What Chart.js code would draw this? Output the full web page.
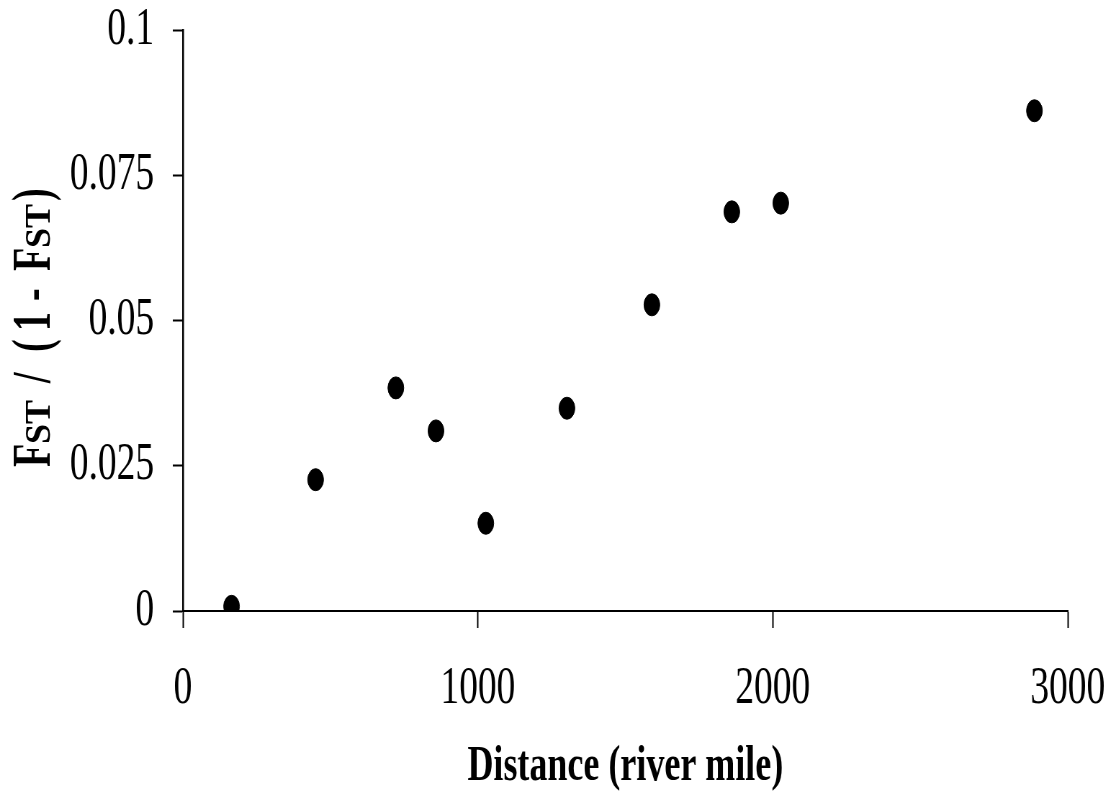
<!DOCTYPE html>
<html>
<head>
<meta charset="utf-8">
<script src="https://cdn.jsdelivr.net/npm/chart.js@4.4.1/dist/chart.umd.min.js"></script>
<style>
  html, body { margin: 0; padding: 0; background: #fff; overflow: hidden; width: 1111px; height: 797px; }
  /* the reference is horizontally squeezed, so draw wide and squeeze */
  #wrap { position: absolute; left: 0; top: 0; width: 1543px; height: 797px; transform: scaleX(0.72); transform-origin: 0 0; }
</style>
</head>
<body>
<div id="wrap"><canvas id="chart"></canvas></div>
<script>
// Data
const distances = [165, 450, 722, 858, 1027, 1302, 1590, 1861, 2027, 2887];
const fstValues = [0.0008, 0.0226, 0.0384, 0.0310, 0.0151, 0.0349, 0.0527, 0.0687, 0.0702, 0.0861];

const xTickLabels = ['0', '1000', '2000', '3000'];
const yTickLabels = ['0', '0.025', '0.05', '0.075', '0.1'];

const SERIF = "'Liberation Serif', 'Times New Roman', serif";

// y axis title with small "ST" letters, drawn by hand
const yTitlePlugin = {
    id: 'yTitle',
    afterDraw(chart) {
        const ctx = chart.ctx;
        const baseX = 69;
        const big = 'bold 38px ' + SERIF;
        const small = 'bold 36px ' + SERIF;
        // text, bottom y, font, vertical stretch
        const pieces = [
            ['F', 467, big, 2.0], ['ST', 444, small, 1.4], ['/', 383, big, 2.0],
            ['(', 352, big, 2.0], ['1', 331, big, 2.0], ['-', 301, big, 2.0],
            ['F', 271, big, 2.0], ['ST', 248, small, 1.4], [')', 201, big, 2.0]
        ];
        ctx.save();
        ctx.fillStyle = '#000';
        ctx.textAlign = 'left';
        ctx.textBaseline = 'alphabetic';
        pieces.forEach(([t, y, f, k]) => {
            ctx.save();
            ctx.translate(baseX, y);
            ctx.rotate(-Math.PI / 2);
            ctx.scale(1, k);
            ctx.font = f;
            ctx.fillText(t, 0, 0);
            ctx.restore();
        });
        ctx.restore();
    }
};

const ctx = document.getElementById('chart').getContext('2d');
new Chart(ctx, {
    type: 'scatter',
    data: {
        datasets: [{
            data: distances.map((d, i) => ({ x: d, y: fstValues[i] })),
            backgroundColor: '#000',
            borderColor: '#000',
            pointRadius: 11,
            pointHoverRadius: 11
        }]
    },
    options: {
        responsive: true,
        maintainAspectRatio: false,
        animation: false,
        devicePixelRatio: 1,
        layout: { autoPadding: false, padding: { top: 30, right: 60, left: 0, bottom: 0 } },
        plugins: { legend: { display: false }, tooltip: { enabled: false } },
        scales: {
            x: {
                type: 'linear',
                min: 0,
                max: 3000,
                afterFit: (s) => {
                    s.height = 186;
                    s.paddingLeft = 0; s.paddingRight = 0;
                },
                afterBuildTicks: (s) => { s.ticks = xTickLabels.map(v => ({ value: Number(v) })); },
                grid: { drawOnChartArea: false, drawTicks: true, tickLength: 17, tickWidth: 2, tickColor: '#000' },
                border: { display: true, color: '#000', width: 2 },
                ticks: {
                    color: '#000',
                    font: { family: SERIF, size: 52 },
                    padding: 30,
                    maxRotation: 0,
                    callback: (v, i) => xTickLabels[i]
                },
                title: {
                    display: true,
                    text: 'Distance (river mile)',
                    color: '#000',
                    font: { family: SERIF, size: 50, weight: 'bold' },
                    padding: { top: 0, bottom: 0 }
                }
            },
            y: {
                type: 'linear',
                min: 0,
                max: 0.1,
                afterFit: (s) => {
                    s.width = 254;
                    s.paddingTop = 0; s.paddingBottom = 0;
                },
                afterBuildTicks: (s) => { s.ticks = yTickLabels.map(v => ({ value: Number(v) })); },
                grid: { drawOnChartArea: false, drawTicks: true, tickLength: 14, tickWidth: 2, tickColor: '#000' },
                border: { display: true, color: '#000', width: 2.5 },
                ticks: {
                    color: '#000',
                    font: { family: SERIF, size: 52 },
                    padding: 26,
                    callback: (v, i) => yTickLabels[i]
                }
            }
        }
    },
    plugins: [yTitlePlugin]
});
</script>
</body>
</html>
